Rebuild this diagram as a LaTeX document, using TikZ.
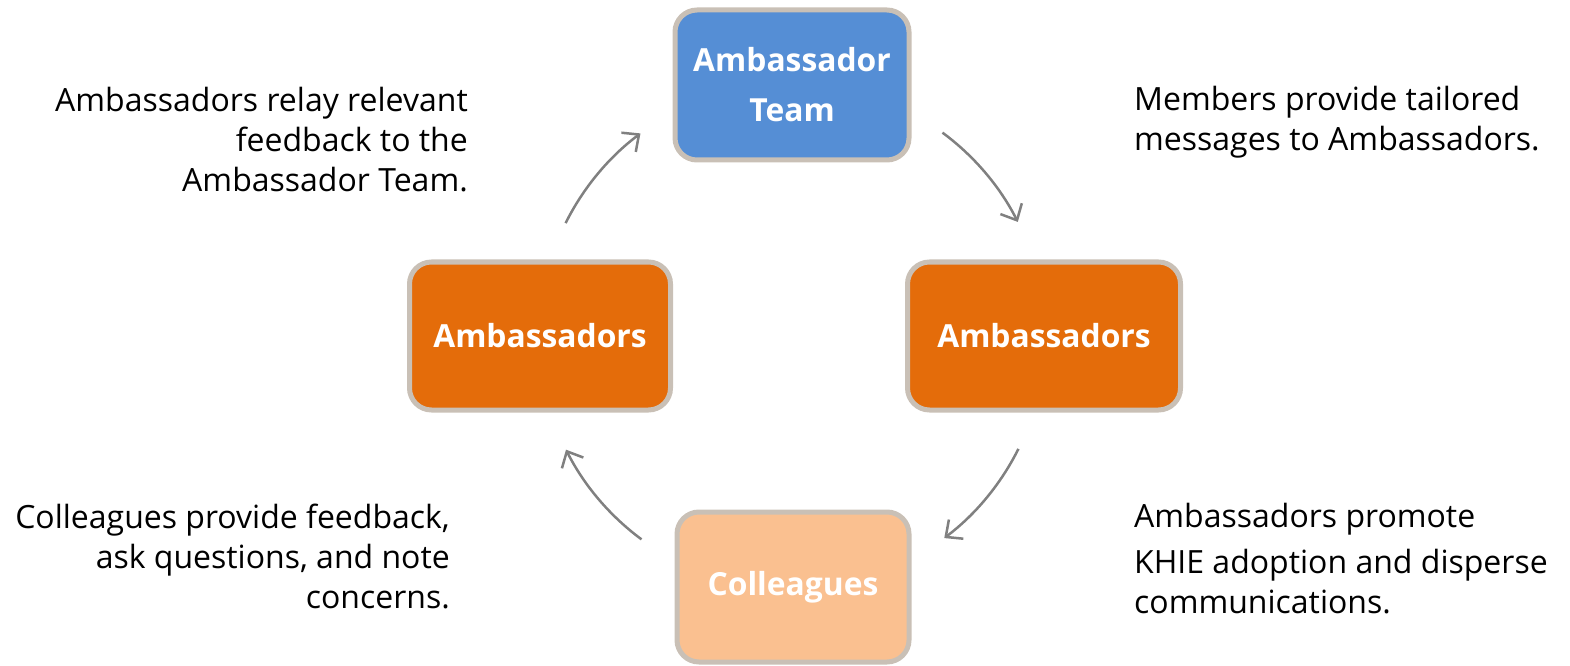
\documentclass[tikz,border=0pt]{standalone}
\usepackage{fontspec}
\setmainfont{Open Sans}
\usepackage{xcolor}
\usetikzlibrary{arrows.meta,calc}
\definecolor{teamblue}{HTML}{558ED5}
\definecolor{ambor}{HTML}{E46C0A}
\definecolor{colpeach}{HTML}{FAC090}
\definecolor{rimgray}{HTML}{C9C0B6}
\definecolor{arrgray}{HTML}{808080}
\tikzset{
	rolebox/.style={rectangle,rounded corners=22pt,draw=rimgray,line width=5pt,text=white,align=center,font=\bfseries\fontsize{31.8}{50}\selectfont},
	note/.style={inner sep=0pt,font=\fontsize{32}{40}\selectfont},
	flow/.style={arrgray,line width=2.5pt,-{Straight Barb[length=13pt,width=24pt,line width=2.5pt]}}
}
\begin{document}
\begin{tikzpicture}[x=1pt,y=1pt]
	\useasboundingbox (0,0) rectangle (1570,665);
	\coordinate (hub) at (792,329);
	\node[rolebox,fill=teamblue,minimum width=234pt,minimum height=150pt] at (792,580) (team) {Ambassador\\Team};
	\node[rolebox,fill=ambor,minimum width=261pt,minimum height=148pt] at (540,329) (ambl) {Ambassadors};
	\node[rolebox,fill=ambor,minimum width=273pt,minimum height=148pt] at (1044,329) (ambr) {Ambassadors};
	\node[rolebox,fill=colpeach,minimum width=232pt,minimum height=150pt] at (793,78) (coll) {Colleagues};
	\node[note,align=right,anchor=base east] at (468,473) (relay) {Ambassadors relay relevant\\feedback to the\\Ambassador Team.};
	\node[note,align=left,anchor=base west] at (1134,514) (tailor) {Members provide tailored\\messages to Ambassadors.};
	\node[note,align=right,anchor=base east] at (450,57) (ask) {Colleagues provide feedback,\\ask questions, and note\\concerns.};
	\node[note,align=left,anchor=base west] at (1134,52) (promote) {Ambassadors promote\\[6pt]KHIE adoption and disperse\\communications.};
	% arrow ends on the ring round the hub
	\coordinate (tr) at ($(hub)+(53.5:253)$);
	\coordinate (br) at ($(hub)+(-26.5:253)$);
	\coordinate (bl) at ($(hub)+(-126.5:253)$);
	\coordinate (tl) at ($(hub)+(153.5:253)$);
	\draw[flow] (tr) arc[start angle=53.5,end angle=26.8,radius=253];
	\draw[flow] (br) arc[start angle=-26.5,end angle=-53,radius=253];
	\draw[flow] (bl) arc[start angle=-126.5,end angle=-153.3,radius=253];
	\draw[flow] (tl) arc[start angle=153.5,end angle=126.8,radius=253];
\end{tikzpicture}
\end{document}
